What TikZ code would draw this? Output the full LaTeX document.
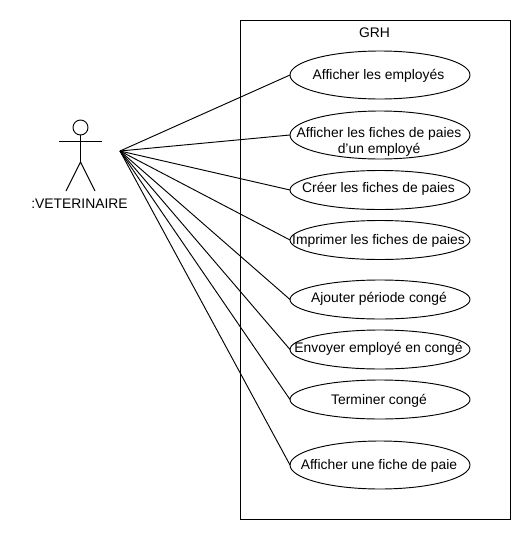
\documentclass[tikz,border=0pt]{standalone}
\usepackage{fontspec}
\setmainfont{Liberation Sans}
\usetikzlibrary{shapes.geometric}
\tikzset{
  ln/.style={draw=black,line width=0.7pt},
  txt/.style={inner sep=0pt,outer sep=0pt,align=center,font=\fontsize{10.4}{12.4}\selectfont,text=black},
  usecase/.style={ellipse,ln,fill=white,minimum width=135pt,minimum height=29.25pt,inner sep=0pt,outer sep=0pt},
  usecasetall/.style={usecase,minimum height=36pt},
  casetext/.style={txt}
}
\begin{document}
\begin{tikzpicture}[x=0.75pt,y=-0.75pt]
\useasboundingbox (0,0) rectangle (530,540);
\fill[white] (0,0) rectangle (530,540);
\node[ln,rectangle,inner sep=0pt,outer sep=0pt,minimum width=202.5pt,minimum height=374.25pt] (sys) at (375,269.5) {};
\node[txt] (sysname) at (374.5,33) {GRH};
% actor
\node[circle,ln,inner sep=0pt,outer sep=0pt,minimum size=11.25pt] (head) at (80.5,127.5) {};
\coordinate (hip) at (80.5,162);
\coordinate (armL) at (59,141);
\coordinate (armR) at (102,141);
\coordinate (legL) at (66,191);
\coordinate (legR) at (95,191);
\draw[ln] (head.south) -- (hip);
\draw[ln] (armL) -- (armR);
\draw[ln] (legL) -- (hip) -- (legR);
\node[txt] (actorname) at (79.5,203.5) {:VETERINAIRE};
\coordinate (hub) at (120,151);
% use cases
\node[usecasetall] (a) at (380,75) {};
\node[usecasetall] (b) at (380,135) {};
\node[usecase] (c) at (380,190) {};
\node[usecase] (d) at (380,240) {};
\node[usecase] (e) at (380,299.5) {};
\node[usecase] (f) at (380,349.5) {};
\node[usecase] (g) at (380,399.5) {};
\node[usecasetall] (h) at (380,465) {};
\node[casetext] (ta) at (378.5,76) {Afficher les employés};
\node[casetext] (tb) at (379,142) {Afficher les fiches de paies\\d'un employé};
\node[casetext] (tc) at (378.5,189) {Créer les fiches de paies};
\node[casetext] (td) at (378.5,241) {Imprimer les fiches de paies};
\node[casetext] (te) at (379,299) {Ajouter période congé};
\node[casetext] (tf) at (378.5,349) {Envoyer employé en congé};
\node[casetext] (tg) at (379,401) {Terminer congé};
\node[casetext] (th) at (379,466) {Afficher une fiche de paie};
\foreach \n in {a,b,c,d,e,f,g,h} \draw[ln] (hub) -- (\n.west);
\end{tikzpicture}
\end{document}
